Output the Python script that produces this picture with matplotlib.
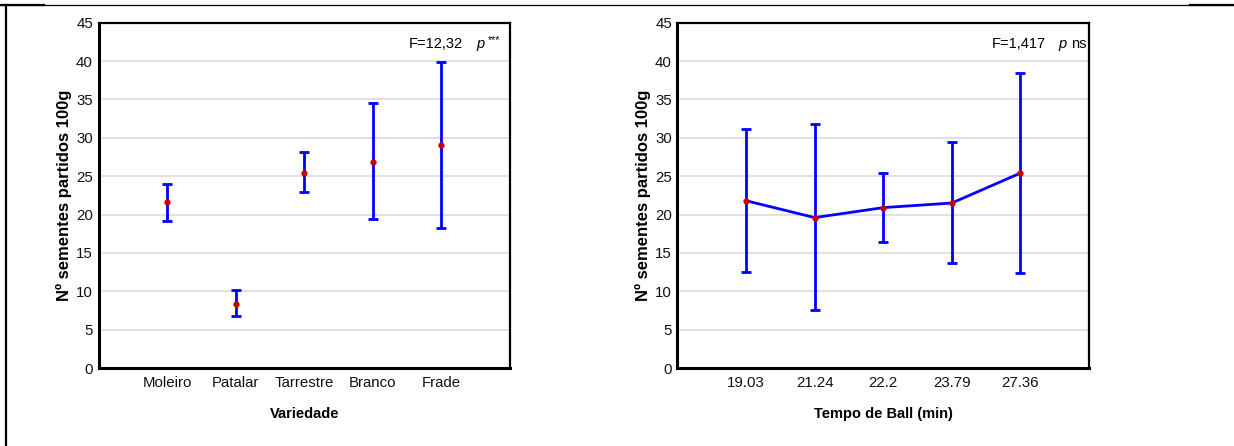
import matplotlib
matplotlib.use("Agg")
import matplotlib.pyplot as plt
from matplotlib.lines import Line2D

plt.rcParams['font.family'] = ['Liberation Sans', 'DejaVu Sans']

# Left panel data
variedades = ["Moleiro", "Patalar", "Tarrestre", "Branco", "Frade"]
var_mean = [21.6, 8.3, 25.4, 26.9, 29.0]
var_low = [19.2, 6.8, 22.9, 19.4, 18.2]
var_high = [24.0, 10.1, 28.2, 34.6, 39.9]

# Right panel data
tempo_labels = ["19.03", "21.24", "22.2", "23.79", "27.36"]
tempo_mean = [21.8, 19.6, 20.9, 21.5, 25.4]
tempo_low = [12.5, 7.5, 16.4, 13.7, 12.4]
tempo_high = [31.2, 31.8, 25.4, 29.4, 38.4]

yticks = list(range(0, 50, 5))

W, H = 1234, 446
fig = plt.figure(figsize=(W / 100, H / 100), dpi=100)

def frac(x0, y0, x1, y1):
    return [x0 / W, 1 - y1 / H, (x1 - x0) / W, (y1 - y0) / H]

def panel(ax, labels, mean, low, high, xlabel, connect):
    x = list(range(1, len(labels) + 1))
    yerr = [[m - l for m, l in zip(mean, low)], [h - m for m, h in zip(mean, high)]]
    ax.errorbar(x, mean, yerr=yerr, fmt='none', ecolor='#0000ff', elinewidth=2.0,
                capsize=3.3, capthick=2.0, zorder=3)
    if connect:
        ax.plot(x, mean, color='#0000ff', lw=2.0, zorder=3)
    ax.plot(x, mean, 'o', color='#cc0000', ms=3.5, zorder=4)
    ax.set_xlim(0, len(labels) + 1)
    ax.set_ylim(0, 45)
    ax.set_yticks(yticks)
    ax.set_xticks(x)
    ax.set_xticklabels(labels)
    ax.tick_params(axis='both', length=0, labelsize=10.8, colors='#111111', pad=6)
    ax.tick_params(axis='y', pad=4)
    ax.yaxis.grid(True, color='#dcdcdc', lw=1.2)
    ax.set_axisbelow(True)
    for s in ['top', 'right']:
        ax.spines[s].set_linewidth(1.6)
    for s in ['left', 'bottom']:
        ax.spines[s].set_linewidth(2.2)
    ax.set_ylabel("Nº sementes partidos 100g", fontsize=12, fontweight='bold', labelpad=3)
    ax.set_xlabel(xlabel, fontsize=10.5, fontweight='bold', labelpad=12)

left = fig.add_axes(frac(98.5, 22.7, 510, 368))
panel(left, variedades, var_mean, var_low, var_high, "Variedade", False)
left.text(0.886, 0.938, "F=12,32", transform=left.transAxes, fontsize=10.5, ha='right', va='center')
left.text(0.918, 0.938, "p", transform=left.transAxes, fontsize=10.5, ha='left', va='center', style='italic')
left.text(0.947, 0.950, "***", transform=left.transAxes, fontsize=7.5, ha='left', va='center')

right = fig.add_axes(frac(677.5, 22.7, 1089, 368))
panel(right, tempo_labels, tempo_mean, tempo_low, tempo_high, "Tempo de Ball (min)", True)
right.text(0.895, 0.938, "F=1,417", transform=right.transAxes, fontsize=10.5, ha='right', va='center')
right.text(0.926, 0.938, "p", transform=right.transAxes, fontsize=10.5, ha='left', va='center', style='italic')
right.text(0.956, 0.938, "ns", transform=right.transAxes, fontsize=10.5, ha='left', va='center')

# border lines of the surrounding table
def fx(px):
    return px / W
def fy(py):
    return 1 - py / H
fig.add_artist(Line2D([fx(0), fx(1234)], [fy(4.5), fy(4.5)], color='black', lw=0.9))
fig.add_artist(Line2D([fx(0), fx(44)], [fy(5), fy(5)], color='black', lw=1.6))
fig.add_artist(Line2D([fx(1190), fx(1234)], [fy(5), fy(5)], color='black', lw=1.6))
fig.add_artist(Line2D([fx(5.5), fx(5.5)], [fy(4.5), fy(446)], color='black', lw=1.6))

fig.savefig("out.png", dpi=100)
